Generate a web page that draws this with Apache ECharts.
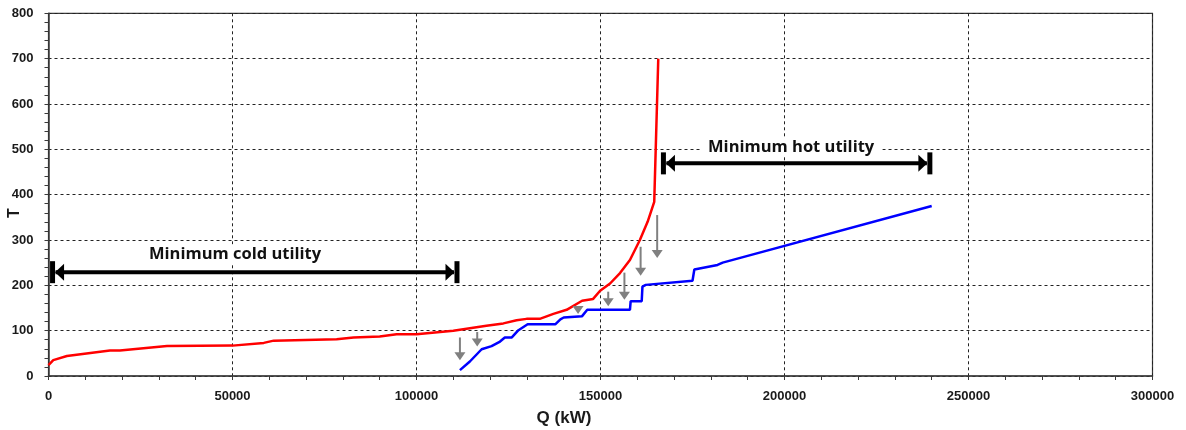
<!DOCTYPE html>
<html>
<head>
<meta charset="utf-8">
<script src="https://cdn.jsdelivr.net/npm/echarts/dist/echarts.min.js"></script>
<style>
html,body{margin:0;padding:0;background:#fff;}
#chart{width:1186px;height:430px;}
</style>
</head>
<body>
<div id="chart"></div>
<script>
// Hot composite curve (red)
var hotQ = [0, 1300, 5000, 16700, 19400, 32200, 50000, 58500, 61200, 78300, 82900, 90000, 94600, 100000, 110000, 119000, 123600, 127200, 129900, 133500, 137200, 140800, 145000, 148000, 149900, 152600, 155300, 158000, 160700, 162800, 164600, 165700];
var hotT = [24, 35, 44, 56, 56, 66, 67, 73, 78, 81, 85, 87, 92, 92, 100, 111, 116, 123, 126, 126, 137, 146, 166, 170, 188, 204, 227, 256, 300, 340, 384, 700];

// Cold composite curve (blue)
var coldQ = [111800, 114500, 117700, 120400, 122700, 124000, 125900, 127700, 130200, 137700, 139100, 140000, 145000, 146400, 158000, 158200, 161200, 161400, 162300, 175000, 175500, 181800, 183200, 240000];
var coldT = [13, 32, 59, 66, 76, 85, 85, 101, 114, 114, 125, 129, 132, 146, 146, 165, 165, 197, 201, 210, 235, 245, 250, 375];

// Grey shift arrows (Q, top T, tip T)
var arrowQ = [111800, 116500, 143900, 152100, 156500, 160900, 165400];
var arrowTopT = [85, 97, 154, 186, 228, 285, 355];
var arrowTipT = [35, 65, 137, 154, 168, 221, 260];

// Utility annotations
var utilLabels = ['Minimum cold utility', 'Minimum hot utility'];
var utilStartQ = [1100, 167100];
var utilEndQ = [111000, 239500];
var utilT = [229, 469];
var utilLabelQ = [50700, 201800];
var utilLabelT = [269, 505];

// Axis ticks
var xTicks = [0, 50000, 100000, 150000, 200000, 250000, 300000];
var yTicks = [0, 100, 200, 300, 400, 500, 600, 700, 800];

function zip(a, b) { return a.map(function (v, i) { return [v, b[i]]; }); }

var chart = echarts.init(document.getElementById('chart'), null, { renderer: 'canvas' });

var axisLabelStyle = { color: '#1a1a1a', fontFamily: '"Liberation Sans", Arial, sans-serif', fontWeight: 'bold', formatter: function (v) { return String(v); } };

var option = {
  animation: false,
  backgroundColor: '#ffffff',
  grid: { left: 48.5, right: 33.5, top: 13.3, bottom: 54, show: true, borderColor: '#3a3a3a', borderWidth: 1.2, backgroundColor: 'transparent' },
  xAxis: {
    type: 'value', min: xTicks[0], max: xTicks[xTicks.length - 1], interval: 50000,
    axisLine: { show: true, onZero: false, lineStyle: { color: '#3a3a3a', width: 1.5 } },
    axisTick: { show: true, length: 4, lineStyle: { color: '#3a3a3a' } },
    minorTick: { show: true, splitNumber: 5, length: 4, lineStyle: { color: '#3a3a3a' } },
    splitLine: { show: true, lineStyle: { color: '#222', type: [3, 3], width: 1 } },
    axisLabel: Object.assign({ fontSize: 13, margin: 14 }, axisLabelStyle)
  },
  yAxis: {
    type: 'value', min: yTicks[0], max: yTicks[yTicks.length - 1], interval: 100,
    axisLine: { show: true, onZero: false, lineStyle: { color: '#3a3a3a', width: 1.5 } },
    axisTick: { show: true, length: 4, lineStyle: { color: '#3a3a3a' } },
    minorTick: { show: true, splitNumber: 5, length: 4, lineStyle: { color: '#3a3a3a' } },
    splitLine: { show: true, lineStyle: { color: '#222', type: [3, 3], width: 1 } },
    axisLabel: Object.assign({ fontSize: 13, margin: 15 }, axisLabelStyle)
  },
  graphic: [
    { type: 'text', x: 564, y: 418, style: { text: 'Q (kW)', font: 'bold 17px "Liberation Sans", Arial, sans-serif', fill: '#1a1a1a', align: 'center', verticalAlign: 'middle' } },
    { type: 'text', x: 15, y: 213, rotation: Math.PI / 2, style: { text: 'T', font: 'bold 16px "Liberation Sans", Arial, sans-serif', fill: '#1a1a1a', align: 'center', verticalAlign: 'middle' } }
  ],
  series: [
    {
      name: 'hot', type: 'line', data: zip(hotQ, hotT), showSymbol: false, symbol: 'none',
      lineStyle: { color: '#ff0000', width: 2.5 }, z: 3
    },
    {
      name: 'cold', type: 'line', data: zip(coldQ, coldT), showSymbol: false, symbol: 'none',
      lineStyle: { color: '#0000ff', width: 2.5 }, z: 3
    },
    {
      name: 'shift', type: 'custom', clip: false, z: 4,
      encode: { x: 0, y: [1, 2] },
      data: arrowQ.map(function (q, i) { return [q, arrowTopT[i], arrowTipT[i]]; }),
      renderItem: function (params, api) {
        var p1 = api.coord([api.value(0), api.value(1)]);
        var p2 = api.coord([api.value(0), api.value(2)]);
        var headH = 8, headW = 11;
        return {
          type: 'group', children: [
            { type: 'line', shape: { x1: p1[0], y1: p1[1], x2: p2[0], y2: p2[1] - headH + 1 }, style: { stroke: '#808080', lineWidth: 2 } },
            { type: 'polygon', shape: { points: [[p2[0] - headW / 2, p2[1] - headH], [p2[0] + headW / 2, p2[1] - headH], [p2[0], p2[1]]] }, style: { fill: '#808080' } }
          ]
        };
      }
    },
    {
      name: 'utility', type: 'custom', clip: false, z: 5,
      encode: { x: [0, 1, 3], y: [2, 4] },
      data: utilLabels.map(function (t, i) { return [utilStartQ[i], utilEndQ[i], utilT[i], utilLabelQ[i], utilLabelT[i]]; }),
      renderItem: function (params, api) {
        var a = api.coord([api.value(0), api.value(2)]);
        var b = api.coord([api.value(1), api.value(2)]);
        var l = api.coord([api.value(3), api.value(4)]);
        var y = a[1];
        var barW = 5, barH = 22, headL = 9, headH = 17;
        var ax = a[0], bx = b[0];
        return {
          type: 'group', children: [
            { type: 'line', shape: { x1: ax + 3, y1: y, x2: bx - 3, y2: y }, style: { stroke: '#000', lineWidth: 4 } },
            { type: 'rect', shape: { x: ax - barW / 2, y: y - barH / 2, width: barW, height: barH }, style: { fill: '#000' } },
            { type: 'rect', shape: { x: bx - barW / 2, y: y - barH / 2, width: barW, height: barH }, style: { fill: '#000' } },
            { type: 'polygon', shape: { points: [[ax + barW / 2, y], [ax + barW / 2 + headL, y - headH / 2], [ax + barW / 2 + headL, y + headH / 2]] }, style: { fill: '#000' } },
            { type: 'polygon', shape: { points: [[bx - barW / 2, y], [bx - barW / 2 - headL, y - headH / 2], [bx - barW / 2 - headL, y + headH / 2]] }, style: { fill: '#000' } },
            { type: 'text', x: l[0], y: l[1], style: { text: utilLabels[params.dataIndex], font: 'bold 16.5px "Open Sans", sans-serif', fill: '#111', align: 'center', verticalAlign: 'middle', backgroundColor: '#ffffff', padding: [1, 8] } }
          ]
        };
      }
    }
  ]
};
chart.setOption(option);
</script>
</body>
</html>
